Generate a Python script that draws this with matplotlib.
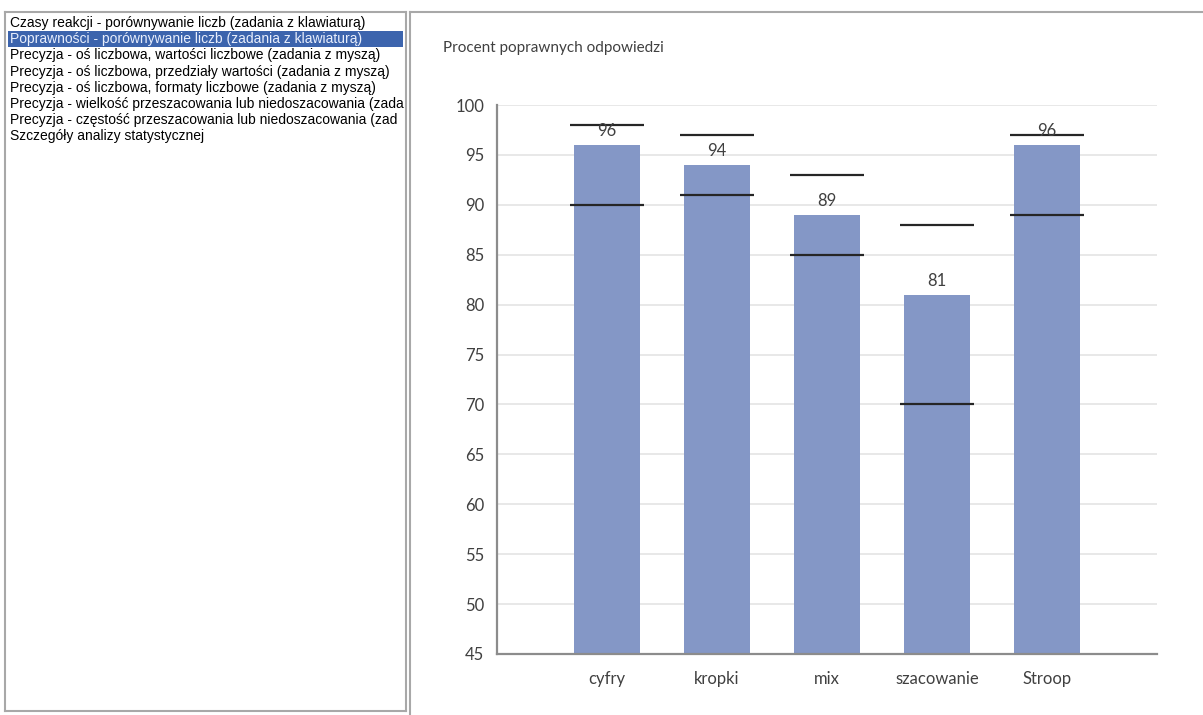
import matplotlib

matplotlib.use("Agg")
import matplotlib.pyplot as plt
from matplotlib.patches import Rectangle

# list of analyses shown in the side panel
LIST_ITEMS = [
    "Czasy reakcji - porównywanie liczb (zadania z klawiaturą)",
    "Poprawności - porównywanie liczb (zadania z klawiaturą)",
    "Precyzja - oś liczbowa, wartości liczbowe (zadania z myszą)",
    "Precyzja - oś liczbowa, przedziały wartości (zadania z myszą)",
    "Precyzja - oś liczbowa, formaty liczbowe (zadania z myszą)",
    "Precyzja - wielkość przeszacowania lub niedoszacowania (zadania z myszą)",
    "Precyzja - częstość przeszacowania lub niedoszacowania (zadania z myszą)",
    "Szczegóły analizy statystycznej",
]
SELECTED = 1

# chart data
categories = ["cyfry", "kropki", "mix", "szacowanie", "Stroop"]
percent_correct = [96, 94, 89, 81, 96]
range_upper = [98, 97, 93, 88, 97]
range_lower = [90, 91, 85, 70, 89]
y_ticks = list(range(45, 101, 5))

W, H = 1203, 715
CHART_FONT = ["Lato", "DejaVu Sans"]
UI_FONT = ["Liberation Sans", "DejaVu Sans"]

BAR_COLOR = "#8497c6"
RANGE_COLOR = "#262626"
TEXT_COLOR = "#404040"
BORDER = "#a8a8a8"


def fig_box(x0, y0, x1, y1):
    """Pixel box (top-left origin) -> figure fraction [left, bottom, width, height]."""
    return [x0 / W, 1 - y1 / H, (x1 - x0) / W, (y1 - y0) / H]


fig = plt.figure(figsize=(W / 100, H / 100), dpi=100)
fig.patch.set_facecolor("white")
renderer = fig.canvas.get_renderer()

# side panel with the list of analyses
lst = fig.add_axes(fig_box(5, 12, 406, 711))
lst.set_xlim(0, 401)
lst.set_ylim(699, 0)
lst.set_xticks([])
lst.set_yticks([])
for side in lst.spines.values():
    side.set_color(BORDER)
    side.set_linewidth(1.5)
list_right = lst.get_window_extent(renderer).x1 - 1
row_h = 16.2
for i, item in enumerate(LIST_ITEMS):
    yc = 11 + i * row_h
    color = "black"
    if i == SELECTED:
        lst.add_patch(Rectangle((3, yc - 8), 395, row_h, color="#3c64ad", lw=0))
        color = "#e8eefc"
    label = lst.text(5, yc, item, fontsize=10, family=UI_FONT, color=color,
                     va="center", ha="left", clip_on=True)
    # long entries are cut at the edge of the list box
    shown = item
    while label.get_window_extent(renderer).x1 > list_right and shown:
        shown = shown[:-1]
        label.set_text(shown)

# outline of the chart panel
frame = fig.add_axes(fig_box(410, 12, 1210, 720))
frame.set_xticks([])
frame.set_yticks([])
for name, side in frame.spines.items():
    side.set_color(BORDER)
    side.set_linewidth(1.5)
    side.set_visible(name in ("left", "top"))
frame.patch.set_alpha(0)

fig.text(443 / W, 1 - 48 / H, "Procent poprawnych odpowiedzi", fontsize=11,
         family=CHART_FONT, color=TEXT_COLOR, ha="left", va="center")

ax = fig.add_axes(fig_box(497, 105, 1157, 654))
x = list(range(len(categories)))
ax.bar(x, percent_correct, width=0.6, color=BAR_COLOR, zorder=2)
ax.hlines(range_upper, [v - 0.34 for v in x], [v + 0.34 for v in x],
          color=RANGE_COLOR, lw=1.6, zorder=3)
ax.hlines(range_lower, [v - 0.34 for v in x], [v + 0.34 for v in x],
          color=RANGE_COLOR, lw=1.6, zorder=3)
for xi, val in zip(x, percent_correct):
    ax.annotate(str(val), (xi, val), xytext=(0, 4), textcoords="offset points",
                ha="center", va="bottom", fontsize=12, family=CHART_FONT,
                color=TEXT_COLOR, zorder=4)

ax.set_xlim(-1, 5)
ax.set_ylim(45, 100)
ax.set_yticks(y_ticks)
ax.set_xticks(x, categories)
ax.tick_params(length=0, labelcolor=TEXT_COLOR)
ax.tick_params(axis="y", pad=9, labelsize=12)
ax.tick_params(axis="x", pad=12, labelsize=12)
for lab in ax.get_xticklabels() + ax.get_yticklabels():
    lab.set_family(CHART_FONT)
ax.grid(axis="y", color="#e4e4e4", lw=1.2, zorder=0)
ax.set_axisbelow(True)
for name in ("top", "right"):
    ax.spines[name].set_visible(False)
for name in ("left", "bottom"):
    ax.spines[name].set_color("#8c8c8c")
    ax.spines[name].set_linewidth(1.6)

fig.savefig("out.png", dpi=100)
